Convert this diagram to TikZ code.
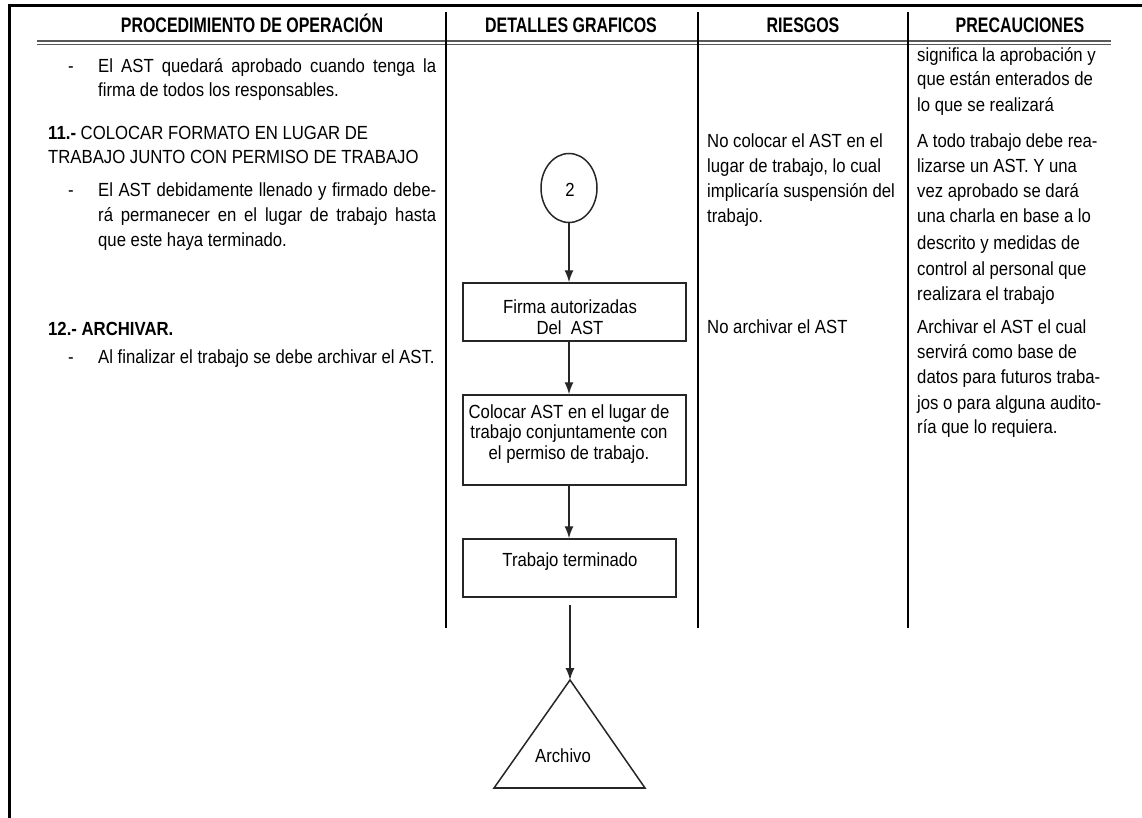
\documentclass[tikz,border=0pt]{standalone}
\usepackage{fontspec}
\setmainfont[FakeStretch=0.88]{Liberation Sans}
\newfontfamily\headfont[FakeStretch=0.76]{Liberation Sans}
\usetikzlibrary{arrows.meta,shapes.geometric}

% justified line of the first column
\newcommand\jline[1]{\makebox[338pt][s]{#1}}

\tikzset{
  bodytxt/.style={font=\fontsize{19}{21}\selectfont, inner sep=0pt, anchor=base west, text=black},
  flowtxt/.style={font=\fontsize{19}{21}\selectfont, inner sep=0pt, anchor=base, text=black},
  headtxt/.style={font=\headfont\bfseries\fontsize{21}{24}\selectfont, inner sep=0pt, anchor=base, text=black},
  colrule/.style={line width=1.5pt, draw=black},
  dblrule/.style={line width=1.5pt, draw=black!65},
  stepbox/.style={draw=black!85, line width=1.5pt, rectangle, inner sep=0pt},
  conn/.style={draw=black!85, line width=1.5pt, -{Latex[length=12pt,width=9pt]}},
}

\begin{document}
\begin{tikzpicture}[x=1pt,y=-1pt]
\useasboundingbox (0,0) rectangle (1142,818);
\fill[white] (0,0) rectangle (1142,818);

% frame and table rules
\draw[line width=3pt, line join=miter] (1142,6) -- (9,6) -- (9,818);
\draw[dblrule] (37,41) -- (1111,41);
\draw[dblrule] (37,44.5) -- (1111,44.5);
\draw[colrule] (446,12) -- (446,628);
\draw[colrule] (698,12) -- (698,628);
\draw[colrule] (908,12) -- (908,628);

% headers
\node[headtxt] (h1) at (252,33) {PROCEDIMIENTO DE OPERACIÓN};
\node[headtxt] (h2) at (571,33) {DETALLES GRAFICOS};
\node[headtxt] (h3) at (803,33) {RIESGOS};
\node[headtxt] (h4) at (1020,33) {PRECAUCIONES};

% procedure column
\node[bodytxt] (m1) at (68,73) {-};
\node[bodytxt] (p1a) at (98,73) {\jline{El AST quedará aprobado cuando tenga la}};
\node[bodytxt] (p1b) at (98,97) {firma de todos los responsables.};
\node[bodytxt] (p2a) at (48,140) {\textbf{11.-} COLOCAR FORMATO EN LUGAR DE};
\node[bodytxt] (p2b) at (48,164) {TRABAJO JUNTO CON PERMISO DE TRABAJO};
\node[bodytxt] (m2) at (68,197) {-};
\node[bodytxt] (p3a) at (98,197) {\jline{El AST debidamente llenado y firmado debe-}};
\node[bodytxt] (p3b) at (98,222) {\jline{rá permanecer en el lugar de trabajo hasta}};
\node[bodytxt] (p3c) at (98,247) {que este haya terminado.};
\node[bodytxt] (p4) at (48,335) {\textbf{12.- ARCHIVAR.}};
\node[bodytxt] (m3) at (68,363) {-};
\node[bodytxt] (p5) at (98,363) {Al finalizar el trabajo se debe archivar el AST.};

% risks column
\node[bodytxt] (r1a) at (707,148) {No colocar el AST en el};
\node[bodytxt] (r1b) at (707,173) {lugar de trabajo, lo cual};
\node[bodytxt] (r1c) at (707,198) {implicaría suspensión del};
\node[bodytxt] (r1d) at (707,223) {trabajo.};
\node[bodytxt] (r2) at (707,333) {No archivar el AST};

% precautions column
\node[bodytxt] (k1a) at (917,61.5) {significa la aprobación y};
\node[bodytxt] (k1b) at (917,86) {que están enterados de};
\node[bodytxt] (k1c) at (917,111.5) {lo que se realizará};
\node[bodytxt] (k2a) at (917,148) {A todo trabajo debe rea-};
\node[bodytxt] (k2b) at (917,173) {lizarse un AST. Y una};
\node[bodytxt] (k2c) at (917,198) {vez aprobado se dará};
\node[bodytxt] (k2d) at (917,223) {una charla en base a lo};
\node[bodytxt] (k2e) at (917,249) {descrito y medidas de};
\node[bodytxt] (k2f) at (917,275) {control al personal que};
\node[bodytxt] (k2g) at (917,300) {realizara el trabajo};
\node[bodytxt] (k3a) at (917,333) {Archivar el AST el cual};
\node[bodytxt] (k3b) at (917,358) {servirá como base de};
\node[bodytxt] (k3c) at (917,383) {datos para futuros traba-};
\node[bodytxt] (k3d) at (917,409) {jos o para alguna audito-};
\node[bodytxt] (k3e) at (917,433) {ría que lo requiera.};

% flow chart
\node[stepbox, ellipse, minimum width=56pt, minimum height=69pt] (c2) at (569,188) {};
\node[flowtxt] (c2t) at (570,197) {2};

\node[stepbox, minimum width=223pt, minimum height=58pt] (f1) at (574.5,312) {};
\node[flowtxt] (f1a) at (570,313) {Firma autorizadas};
\node[flowtxt] (f1b) at (570,334) {Del\ \ AST};

\node[stepbox, minimum width=223pt, minimum height=90pt] (f2) at (574.5,440) {};
\node[flowtxt] (f2a) at (569,418) {Colocar AST en el lugar de};
\node[flowtxt] (f2b) at (569,438.5) {trabajo conjuntamente con};
\node[flowtxt] (f2c) at (569,459) {el permiso de trabajo.};

\node[stepbox, minimum width=213pt, minimum height=58pt] (f3) at (569.5,568) {};
\node[flowtxt] (f3a) at (570,566) {Trabajo terminado};

\coordinate (tri) at (570,680);
\draw[draw=black!85, line width=1.5pt, line join=miter] (tri) -- (494,788) -- (645,788) -- cycle;
\draw[draw=black!85, line width=2pt] (494,788) -- (645,788);
\node[flowtxt] (tria) at (563,762) {Archivo};

\coordinate (f3out) at ([yshift=-7pt]f3.south);
\draw[conn] (c2.south) -- (c2.south |- f1.north);
\draw[conn] (f1.south -| c2.south) -- (f2.north -| c2.south);
\draw[conn] (f2.south -| c2.south) -- (f3.north -| c2.south);
\draw[conn] (tri |- f3out) -- (tri);
\end{tikzpicture}
\end{document}
